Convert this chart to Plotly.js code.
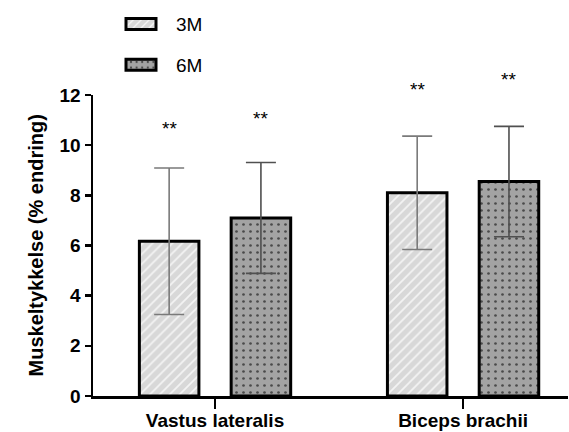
<!DOCTYPE html>
<html>
<head>
<meta charset="utf-8">
<script src="https://cdn.plot.ly/plotly-3.0.1.min.js"></script>
<style>html,body{margin:0;padding:0;background:#fff;}#chart{width:569px;height:432px;}</style>
</head>
<body>
<div id="chart"></div>
<script>
const categories = ['Vastus lateralis', 'Biceps brachii'];
const groups = ['3M', '6M'];
const mean3M = [6.17, 8.10];
const sd3M = [2.92, 2.26];
const mean6M = [7.10, 8.55];
const sd6M = [2.21, 2.20];
const sigText3M = ['**', '**'];
const sigText6M = ['**', '**'];
const sigY3M = [10.78, 12.3];
const sigY6M = [11.15, 12.7];
const yTicks = [0, 2, 4, 6, 8, 10, 12];
const yTitle = 'Muskeltykkelse (% endring)';

const FONT = 'Liberation Sans, Arial, Helvetica, sans-serif';
const yMax = 12;
const barW = 0.24;
const off3M = -0.305, off6M = 0.065;

const trace3M = {
  type: 'bar', name: groups[0], x: categories, y: mean3M,
  width: barW, offset: off3M,
  marker: {
    color: '#d8d8d8',
    line: {color: '#000', width: 3},
    pattern: {shape: '/', fgcolor: '#f4f4f4', bgcolor: '#d8d8d8', size: 7, solidity: 0.25}
  },
  error_y: {type: 'data', array: sd3M, visible: true, color: '#7a7a7a', thickness: 1.6, width: 15},
  legendgroup: 'a'
};
const trace6M = {
  type: 'bar', name: groups[1], x: categories, y: mean6M,
  width: barW, offset: off6M,
  marker: {
    color: '#a3a3a3',
    line: {color: '#000', width: 3},
    pattern: {shape: '.', fgcolor: '#4a4a4a', bgcolor: '#a3a3a3', size: 7, solidity: 0.12}
  },
  error_y: {type: 'data', array: sd6M, visible: true, color: '#505050', thickness: 1.6, width: 15},
  legendgroup: 'b'
};

const annotations = [];
categories.forEach((c, i) => {
  annotations.push({x: i + off3M + barW / 2, y: sigY3M[i] / yMax, xref: 'x', yref: 'paper', yshift: 10, text: sigText3M[i], showarrow: false, font: {family: FONT, size: 19, color: '#000'}});
  annotations.push({x: i + off6M + barW / 2, y: sigY6M[i] / yMax, xref: 'x', yref: 'paper', yshift: 10, text: sigText6M[i], showarrow: false, font: {family: FONT, size: 19, color: '#000'}});
});
annotations.push({
  x: -0.1474, y: 0.5, xref: 'paper', yref: 'paper', textangle: -90, showarrow: false,
  text: '<b>' + yTitle + '</b>', font: {family: FONT, size: 20, color: '#000'}
});

const layout = {
  width: 569, height: 432,
  margin: {l: 93, r: 1, t: 95, b: 36, autoexpand: false},
  paper_bgcolor: '#fff', plot_bgcolor: '#fff',
  barmode: 'overlay',
  showlegend: true,
  legend: {
    xref: 'container', yref: 'container', x: 114 / 569, y: 0.988, xanchor: 'left', yanchor: 'top',
    font: {family: FONT, size: 19, color: '#000'},
    traceorder: 'grouped', tracegroupgap: 13, itemwidth: 52, bgcolor: 'rgba(0,0,0,0)'
  },
  xaxis: {
    type: 'category', range: [-0.492, 1.423], automargin: false,
    showline: true, linecolor: '#000', linewidth: 2.5,
    ticks: 'outside', ticklen: 10, tickwidth: 2.5, tickcolor: '#000', ticklabelstandoff: -4,
    tickfont: {family: FONT, size: 19, color: '#000', weight: 'bold'},
    showgrid: false, zeroline: false, fixedrange: true
  },
  yaxis: {
    range: [0, yMax], tickvals: yTicks, automargin: false,
    showline: true, linecolor: '#000', linewidth: 2.5,
    ticks: 'outside', ticklen: 6, tickwidth: 2.5, tickcolor: '#000',
    tickfont: {family: FONT, size: 19, color: '#000', weight: 'bold'},
    showgrid: false, zeroline: false
  },
  annotations: annotations
};

Plotly.newPlot('chart', [trace3M, trace6M], layout, {displayModeBar: false, staticPlot: true}).then(() => {
  document.querySelectorAll('#chart .legend .legendpoints path').forEach(p => p.setAttribute('d', 'M11,5.5H-19V-5.5H11Z'));
});
</script>
</body>
</html>
